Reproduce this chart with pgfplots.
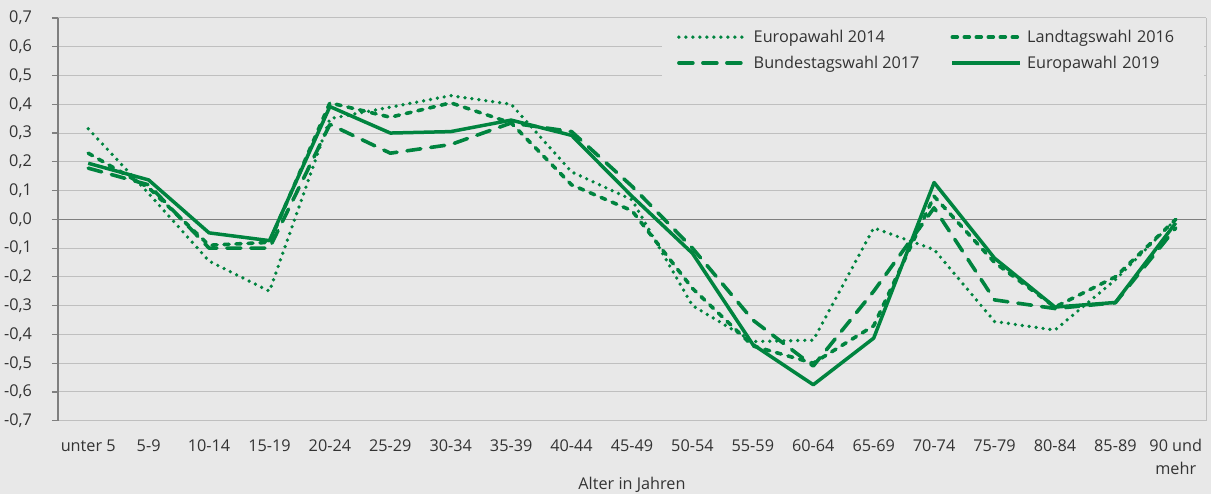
\documentclass[border=0pt]{standalone}
\usepackage{pgfplots}
\pgfplotsset{compat=1.18}
\usepackage{pgfplotstable}
\usepackage{fontspec}
\setmainfont{Open Sans}
\definecolor{bg}{HTML}{E8E8E8}
\definecolor{gridc}{HTML}{BFBFBF}
\definecolor{axc}{HTML}{7F7F7F}
\definecolor{grn}{HTML}{00843F}
\definecolor{txt}{HTML}{333333}

% x: 0 = unter 5, ..., 18 = 90 und mehr
\pgfplotstableread{
x ewa lw bw ewb
0  0.315  0.23  0.178  0.195
1  0.09   0.11  0.12   0.137
2  -0.145 -0.09 -0.10  -0.047
3  -0.25  -0.08 -0.10  -0.074
4  0.35   0.405 0.33   0.392
5  0.39   0.355 0.23   0.30
6  0.43   0.405 0.26   0.305
7  0.40   0.335 0.335  0.345
8  0.165  0.12  0.305  0.292
9  0.068  0.03  0.115  0.08
10 -0.30  -0.24 -0.10  -0.118
11 -0.425 -0.44 -0.35  -0.435
12 -0.42  -0.50 -0.51  -0.575
13 -0.03  -0.37 -0.25  -0.413
14 -0.105 0.08  0.04   0.128
15 -0.355 -0.15 -0.28  -0.135
16 -0.385 -0.305 -0.31 -0.305
17 -0.21  -0.20 -0.29  -0.289
18 0.0    0.0   -0.03  -0.012
}\data

\newcommand{\tfont}{\fontsize{16.3}{22.5}\selectfont}

\begin{document}
\begin{tikzpicture}
\path[use as bounding box, fill=bg] (0,0) rectangle (1211bp,494bp);
\begin{axis}[
  at={(58bp,73.3bp)}, anchor=south west,
  scale only axis, width=1148bp, height=402.7bp,
  xmin=-0.5, xmax=18.5, ymin=-0.7, ymax=0.7,
  axis y line*=left, axis x line*=bottom,
  y axis line style={axc, line width=1.6bp},
  x axis line style={gridc, line width=1bp},
  xtick={0,...,18},
  xticklabels={unter 5,5-9,10-14,15-19,20-24,25-29,30-34,35-39,40-44,45-49,50-54,55-59,60-64,65-69,70-74,75-79,80-84,85-89,{\begin{tabular}[t]{@{}c@{}}90 und\\mehr\end{tabular}}},
  x tick style={draw=none},
  ytick={-0.7,-0.6,-0.5,-0.4,-0.3,-0.2,-0.1,0,0.1,0.2,0.3,0.4,0.5,0.6,0.7},
  y tick style={axc, line width=1.2bp},
  tick align=outside, major tick length=6bp,
  ymajorgrids, major grid style={gridc, line width=1bp},
  extra y ticks={0}, extra y tick labels={},
  extra y tick style={major grid style={axc, line width=1.6bp}},
  extra x ticks={18.5}, extra x tick labels={},
  extra x tick style={xmajorgrids, major grid style={gridc, line width=1bp}},
  /pgf/number format/fixed, /pgf/number format/fixed zerofill,
  /pgf/number format/precision=1, /pgf/number format/use comma,
  /pgf/number format/assume math mode=true,
  yticklabel style={font=\tfont, text=txt, inner sep=0pt, xshift=-20bp},
  xticklabel style={font=\tfont, text=txt, inner sep=0pt, anchor=base, yshift=-25bp},
  xlabel={Alter in Jahren},
  xlabel style={font=\tfont, text=txt, at={(axis description cs:0.5,-0.1696)}, anchor=base, inner sep=0pt},
  legend columns=2,
  legend cell align=left,
  legend style={at={(0.526,1)}, anchor=north west, fill=bg, draw=none,
    font=\tfont, text=txt,
    /tikz/every odd column/.append style={column sep=3bp},
    /tikz/column 2/.append style={column sep=29bp},
    /tikz/column 4/.append style={nodes={text width=160bp}},
    row sep=8bp, inner xsep=15bp, inner ysep=10bp},
  legend image code/.code={\draw[#1] (0bp,0bp) -- (68bp,0bp);},
  every axis plot/.append style={grn, line join=round},
]
\addplot[grn, line width=3.7bp, line cap=round, dash pattern=on 0bp off 7bp] table[x=x, y=ewa] {\data};
\addlegendentry{Europawahl 2014}
\addplot[grn, line width=3.6bp, line cap=round, dash pattern=on 5bp off 7bp] table[x=x, y=lw] {\data};
\addlegendentry{Landtagswahl 2016}
\addplot[grn, line width=3.6bp, line cap=round, dash pattern=on 14bp off 10bp] table[x=x, y=bw] {\data};
\addlegendentry{Bundestagswahl 2017}
\addplot[grn, line width=3.5bp] table[x=x, y=ewb] {\data};
\addlegendentry{Europawahl 2019}
\end{axis}
\end{tikzpicture}
\end{document}
